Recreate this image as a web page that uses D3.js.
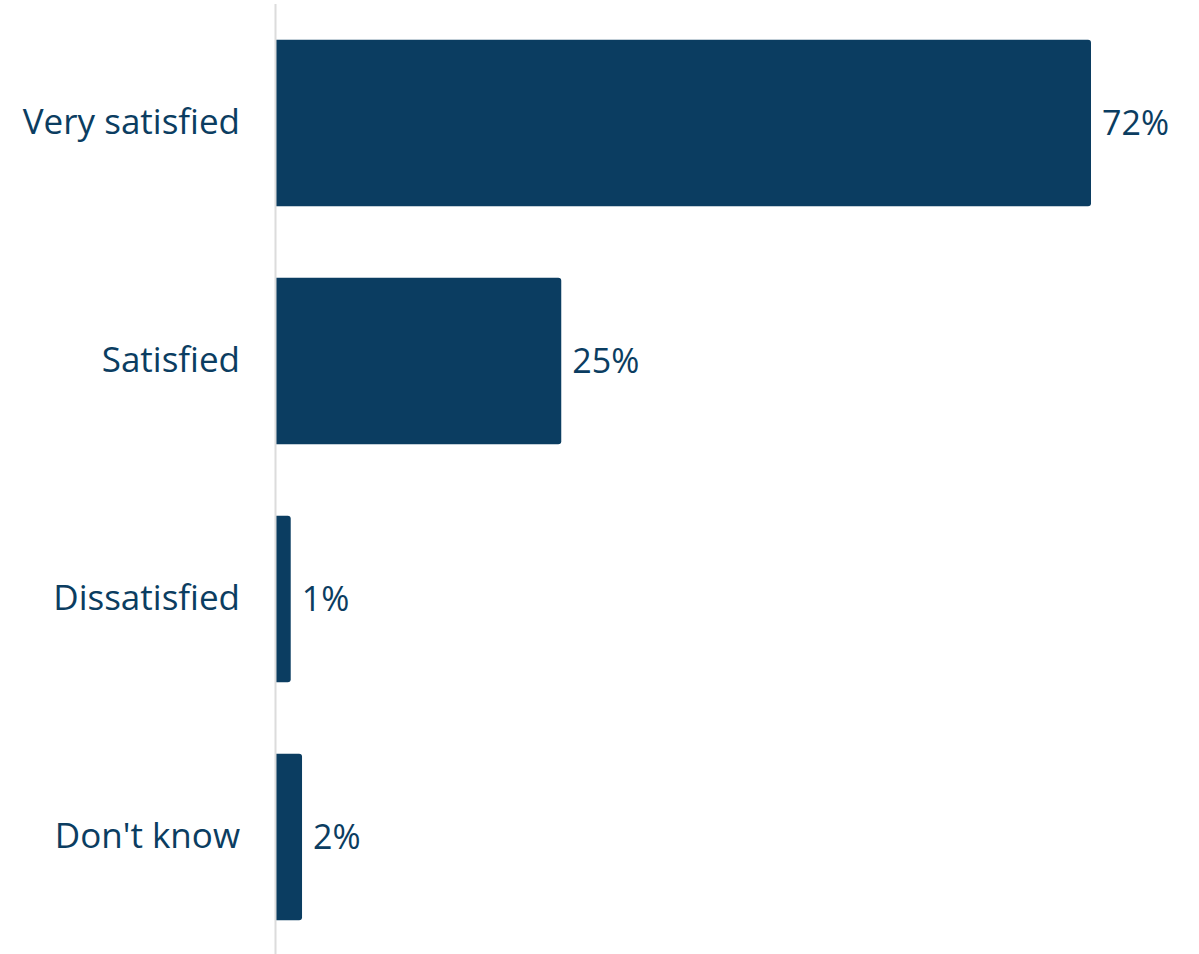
<!DOCTYPE html>
<html>
<head>
<meta charset="utf-8">
<script src="https://cdn.jsdelivr.net/npm/d3@7"></script>
<style>
  html, body { margin: 0; padding: 0; background: #fff; }
  #chart text { font-family: "Open Sans", Lato, sans-serif; fill: #0b3d61; }
</style>
</head>
<body>
<div id="chart"></div>
<script>
// satisfaction bars
const categories = ["Very satisfied", "Satisfied", "Dissatisfied", "Don't know"];
const values = [72, 25.2, 1.3, 2.3];
const valueLabels = ["72%", "25%", "1%", "2%"];

const width = 1199, height = 954;
const barColor = '#0b3d61',
    axisColor = '#dcdcdc';

const svg = d3.select('#chart').append('svg')
    .attr('width', width)
    .attr('height', height);

const x = d3.scaleLinear()
    .domain([0, 72])
    .range([276, 1091]);

const y = d3.scaleBand()
    .domain(categories)
    .range([4, 956])
    .paddingInner(0.3)
    .paddingOuter(0.15);

// bars, rounded only on the right end
function barPath(x0, x1, y0, h, r) {
    r = Math.min(r, (x1 - x0) / 2);
    return 'M' + x0 + ',' + y0 +
        'H' + (x1 - r) +
        'Q' + x1 + ',' + y0 + ' ' + x1 + ',' + (y0 + r) +
        'V' + (y0 + h - r) +
        'Q' + x1 + ',' + (y0 + h) + ' ' + (x1 - r) + ',' + (y0 + h) +
        'H' + x0 + 'Z';
}

svg.append('g').selectAll('path')
    .data(categories)
    .enter()
    .append('path')
    .attr('d', function(d, i) {
        return barPath(x(0), x(values[i]), y(d), y.bandwidth(), 3);
    })
    .attr('fill', barColor);

// value labels
svg.append('g').selectAll('text')
    .data(categories)
    .enter()
    .append('text')
    .attr('x', function(d, i) { return x(values[i]) + 11; })
    .attr('y', function(d) { return y(d) + y.bandwidth() / 2; })
    .attr('dy', '0.35em')
    .attr('font-size', 34)
    .text(function(d, i) { return valueLabels[i]; });

// category axis
const yAxis = d3.axisLeft(y).tickSize(0).tickPadding(35);
const ax = svg.append('g')
    .attr('transform', 'translate(' + 275 + ',0)')
    .call(yAxis);
ax.select('.domain').remove();
ax.selectAll('text')
    .attr('font-size', 35)
    .attr('font-family', null)
    .attr('fill', barColor);

svg.append('line')
    .attr('x1', 275.5).attr('x2', 275.5)
    .attr('y1', 4).attr('y2', height)
    .attr('stroke', axisColor)
    .attr('stroke-width', 2);
</script>
</body>
</html>
